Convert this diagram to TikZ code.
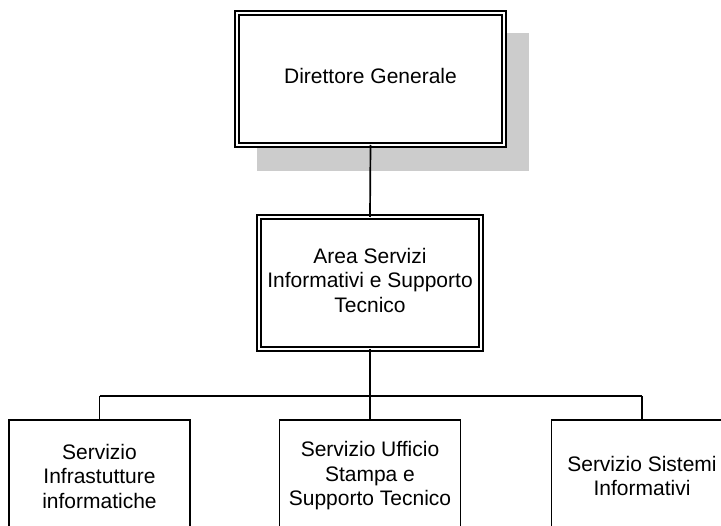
\documentclass[tikz,border=0pt]{standalone}
\usepackage{fontspec}
\setmainfont{Liberation Sans}
\begin{document}
\begin{tikzpicture}[x=1pt,y=-1pt,
  line width=1.7pt,
  lbl/.style={align=center,font=\fontsize{21}{24.5}\selectfont,text=black},
  dblbox/.style={lbl,draw,fill=white,double,double distance=2.4pt,inner sep=0pt,outer sep=0pt},
  unitbox/.style={lbl,draw,fill=white,inner sep=0pt,outer sep=0pt,minimum width=181pt,minimum height=112pt},
  wire/.style={draw,line width=1.7pt}]
\useasboundingbox (0,0) rectangle (721,526);
\clip (0,0) rectangle (721,526);
\fill[fill={rgb,255:red,204;green,204;blue,204}] (257,33) rectangle (529,171);
\node[dblbox,minimum width=267pt,minimum height=132pt] (dg) at (370.5,79) {};
\node[lbl] (dgt) at (370.5,76) {Direttore Generale};
\node[dblbox,minimum width=222pt,minimum height=132pt] (area) at (370,283) {};
\node[lbl] (areat) at (370,280) {Area Servizi\\Informativi e Supporto\\Tecnico};
\node[unitbox] (s1) at (99.5,476) {Servizio\\Infrastutture\\informatiche};
\node[unitbox] (s2) at (370,476) {Servizio Ufficio\\Stampa e\\Supporto Tecnico};
\node[unitbox] (s3) at (642,476) {Servizio Sistemi\\Informativi};
\coordinate (busL) at (99.5,396);
\coordinate (busC) at (370,396);
\coordinate (busR) at (642,396);
\draw[wire] (dg.south) -- (area.north);
\draw[wire] (area.south) -- (busC);
\draw[wire] (busL) -- (busR);
\draw[wire] (busL) -- (s1.north);
\draw[wire] (busC) -- (s2.north);
\draw[wire] (busR) -- (s3.north);
\end{tikzpicture}
\end{document}
